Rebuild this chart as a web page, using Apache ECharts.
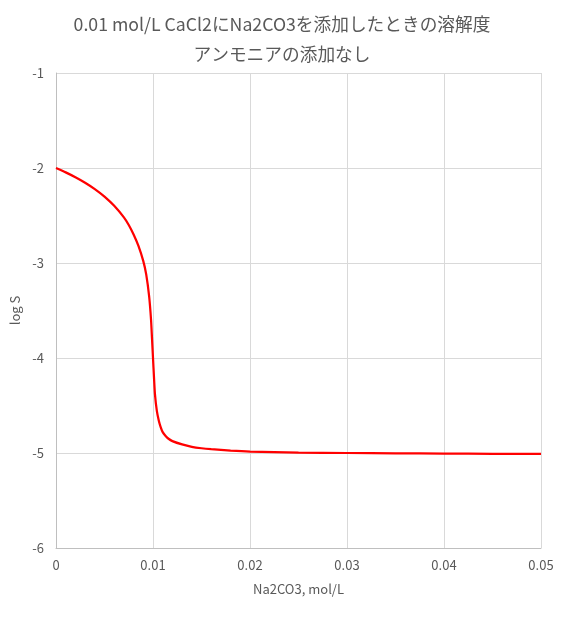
<!DOCTYPE html>
<html>
<head>
<meta charset="utf-8">
<script src="https://cdn.jsdelivr.net/npm/echarts@6/dist/echarts.min.js"></script>
<style>html,body{margin:0;padding:0;background:#fff}#c{width:564px;height:626px}</style>
</head>
<body>
<div id="c"></div>
<script>
const titleLines = ['0.01 mol/L CaCl2にNa2CO3を添加したときの溶解度', 'アンモニアの添加なし'];
const xName = 'Na2CO3, mol/L';
const yName = 'log S';
const na2co3 = [0, 0.001, 0.002, 0.003, 0.004, 0.005, 0.006, 0.007, 0.0075, 0.008, 0.0085, 0.009, 0.0093, 0.0096, 0.0098, 0.0099, 0.01, 0.0101, 0.0102, 0.0104, 0.0106, 0.0108, 0.011, 0.0113, 0.0116, 0.012, 0.013, 0.014, 0.015, 0.016, 0.018, 0.02, 0.025, 0.03, 0.035, 0.04, 0.045, 0.05];
const logS = [-2.00, -2.046, -2.097, -2.155, -2.222, -2.301, -2.398, -2.52, -2.60, -2.70, -2.82, -2.98, -3.12, -3.35, -3.60, -3.80, -4.00, -4.20, -4.38, -4.56, -4.66, -4.73, -4.78, -4.82, -4.85, -4.875, -4.91, -4.935, -4.95, -4.96, -4.975, -4.985, -4.995, -5.0, -5.003, -5.006, -5.008, -5.01];

const chart = echarts.init(document.getElementById('c'));
const font = "'Noto Sans CJK JP', 'Noto Sans', sans-serif";
chart.setOption({
  animation: false,
  title: {
    text: titleLines.join('\n'),
    left: 'center',
    top: 4,
    textStyle: { fontFamily: font, fontSize: 17.7, fontWeight: 'normal', color: '#595959', lineHeight: 30 }
  },
  grid: { left: 56, right: 23, top: 73, bottom: 78 },
  xAxis: {
    type: 'value', min: 0, max: 0.05, interval: 0.01,
    name: xName, nameLocation: 'middle', nameGap: 35,
    nameTextStyle: { fontFamily: font, fontSize: 13, color: '#595959' },
    axisLine: { show: true, lineStyle: { color: '#bfbfbf' } },
    axisTick: { show: false },
    axisLabel: { fontFamily: font, fontSize: 13, color: '#595959', margin: 11 },
    splitLine: { show: true, lineStyle: { color: '#d9d9d9' } }
  },
  yAxis: {
    type: 'value', min: -6, max: -1, interval: 1,
    name: yName, nameLocation: 'middle', nameGap: 31, nameRotate: 90,
    nameTextStyle: { fontFamily: font, fontSize: 13, color: '#595959' },
    axisLine: { show: true, lineStyle: { color: '#bfbfbf' } },
    axisTick: { show: false },
    axisLabel: { fontFamily: font, fontSize: 13, color: '#595959', margin: 12 },
    splitLine: { show: true, lineStyle: { color: '#d9d9d9' } }
  },
  series: [{
    type: 'line',
    data: na2co3.map((x, i) => [x, logS[i]]),
    showSymbol: false,
    smooth: 0.2,
    lineStyle: { color: '#ff0000', width: 2.25 }
  }]
});
</script>
</body>
</html>
